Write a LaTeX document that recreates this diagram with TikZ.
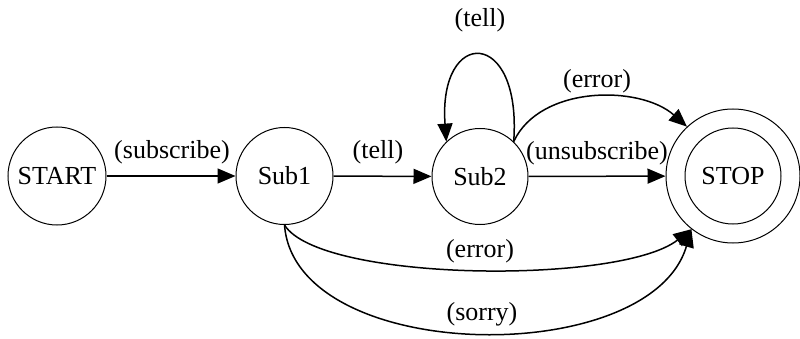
\documentclass[tikz,border=0pt]{standalone}
\usepackage{fontspec}
\setmainfont{Liberation Serif}
\usetikzlibrary{arrows.meta}
\tikzset{
  state/.style={circle, draw, line width=1pt, inner sep=0pt, font=\fontsize{26}{30}\selectfont},
  lbl/.style={inner sep=0pt, font=\fontsize{26}{30}\selectfont},
  edge/.style={line width=1.5pt, -{Triangle[length=18pt,width=15pt]}}
}
\begin{document}
\begin{tikzpicture}[x=1pt,y=-1pt]
\useasboundingbox (0,0) rectangle (800,339);
\node[state, minimum size=98pt] (start) at (57,176) {START};
\node[state, minimum size=97pt] (sub1) at (284.5,176) {Sub1};
\node[state, minimum size=96pt] (sub2) at (480,176.5) {Sub2};
\node[state, minimum size=134pt] (stop) at (733,176) {};
\node[state, minimum size=96pt] (stopin) at (stop.center) {STOP};

\node[lbl] (l1) at (172,152) {(subscribe)};
\node[lbl] (l2) at (378,152) {(tell)};
\node[lbl] (l3) at (480,20) {(tell)};
\node[lbl] (l4) at (597,81) {(error)};
\node[lbl] (l5) at (597,153) {(unsubscribe)};
\node[lbl] (l6) at (480,251) {(error)};
\node[lbl] (l7) at (482,314) {(sorry)};

\draw[edge] (start) -- (sub1);
\draw[edge] (sub1) -- (sub2);
\draw[edge] (sub2) -- (stop);
\draw[edge] (sub2.46) .. controls (522,27) and (438,27) .. (sub2.134);
\draw[edge] (sub2.46) .. controls (540,85) and (640,85) .. (stop.133);
\draw[edge] (sub1.-90) .. controls (320,282) and (620,285) .. (stop.232);
\draw[edge] (sub1.-90) .. controls (295,365) and (650,370) .. (stop.232);
\end{tikzpicture}
\end{document}
